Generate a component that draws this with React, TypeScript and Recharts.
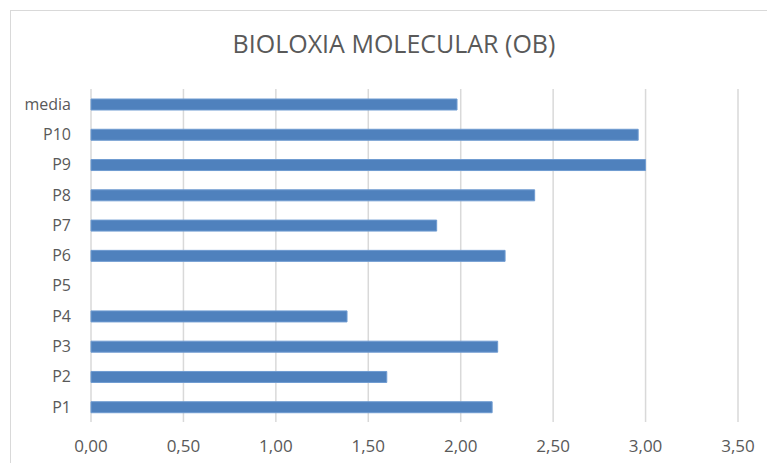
import React from 'react';
import { BarChart, Bar, XAxis, YAxis, CartesianGrid } from 'recharts';

const categories = ['P1', 'P2', 'P3', 'P4', 'P5', 'P6', 'P7', 'P8', 'P9', 'P10', 'media'];
const scores = [2.17, 1.6, 2.2, 1.385, 0, 2.24, 1.87, 2.4, 3.0, 2.96, 1.98];
const xTicks = [0, 0.5, 1, 1.5, 2, 2.5, 3, 3.5];

// recharts puts the first row at the top, Excel puts P1 at the bottom
const data = categories.map((name, i) => ({ name, value: scores[i] })).reverse();

const fmt = (v: number) => v.toFixed(2).replace('.', ',');

const App: React.FC = () => {
  return (
    <div style={{ position: 'absolute', left: 0, top: 0, width: 767, height: 463, overflow: 'hidden', background: '#fff', fontFamily: '"Open Sans", sans-serif' }}>
      {/* chart frame */}
      <div style={{ position: 'absolute', left: 10, top: 10, width: 790, height: 490, border: '1px solid #d9d9d9' }} />
      <div style={{ position: 'absolute', left: 0, top: 26, width: 788, textAlign: 'center', fontSize: 25, color: '#595959' }}>
        BIOLOXIA MOLECULAR (OB)
      </div>
      <div style={{ position: 'absolute', left: 0, top: 0 }}>
        <BarChart
          width={767}
          height={463}
          data={data}
          layout="vertical"
          margin={{ top: 89, right: 29, bottom: 16, left: 0 }}
          barSize={11}
        >
          <CartesianGrid horizontal={false} stroke="#d9d9d9" strokeWidth={1.5} />
          <XAxis
            type="number"
            domain={[0, 3.5]}
            ticks={xTicks}
            tickFormatter={fmt}
            axisLine={false}
            tickLine={false}
            tickSize={0}
            tickMargin={18}
            height={25}
            tick={{ fill: '#595959', fontSize: 17 }}
          />
          <YAxis
            type="category"
            dataKey="name"
            width={91}
            axisLine={false}
            tickLine={false}
            tickSize={0}
            tickMargin={20}
            tick={{ fill: '#595959', fontSize: 16 }}
          />
          <Bar dataKey="value" fill="#4f81bd" stroke="#6f9bd1" strokeWidth={1} isAnimationActive={false} />
        </BarChart>
      </div>
    </div>
  );
};

export default App;
